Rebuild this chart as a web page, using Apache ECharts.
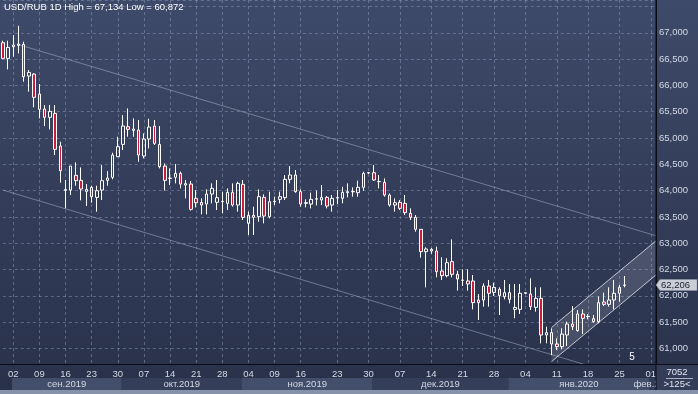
<!DOCTYPE html>
<html><head><meta charset="utf-8">
<script src="https://cdn.jsdelivr.net/npm/echarts@6/dist/echarts.min.js"></script>
<style>html,body{margin:0;padding:0;background:#2e3750;}#c{width:698px;height:394px;}</style>
</head><body><div id="c"></div>
<script>
// ---------- data ----------
const symbolName = 'USD/RUB 1D';
const slotCount = 126; // visible bar slots (incl. empty right shift)
// [open, close, low, high]
const ohlc = [
 [66812,66514,66495,66850],[66514,66723,66305,66850],[66736,66768,66546,66958],[66761,66787,66609,67134],
 [66780,66166,66071,66831],[66178,66248,65881,66292],[66216,65773,65583,66230],[65836,65545,65374,66026],
 [65551,65393,65228,65627],[65393,65507,65164,65627],[65469,64784,64677,65627],[64848,64379,64151,64930],
 [64005,64020,63663,64201],[64011,64467,63916,64467],[64290,64189,64094,64537],[64195,64030,63815,64442],
 [63986,64024,63707,64125],[64062,63884,63770,64094],[63872,63998,63599,64094],[64011,64189,63821,64486],
 [64195,64239,64094,64372],[64252,64676,64214,64721],[64645,64835,64645,65025],[64879,65228,64772,65437],
 [65215,65165,65025,65564],[65146,65171,65025,65374],[65152,64677,64550,65342],[64658,64981,64613,65088],
 [64981,65209,64803,65367],[65228,64898,64867,65342],[64879,64455,64423,65228],[64467,64195,64000,64518],
 [64233,64239,64106,64423],[64252,64328,64138,64505],[64328,64125,64043,64360],[64106,64132,63853,64202],
 [64125,63643,63619,64183],[63853,63770,63680,64011],[63777,63726,63549,63853],[63745,63935,63549,64024],
 [63935,64043,63758,64138],[63777,63866,63631,64202],[63790,63796,63568,63980],[63758,63967,63631,64043],
 [63967,63726,63695,64138],[63726,64138,63600,64170],[64119,63492,63441,64202],[63378,63530,63156,63600],
 [63530,63492,63156,63695],[63505,63885,63410,64024],[63872,63517,63378,63929],[63505,63790,63473,63980],
 [63790,63796,63726,63885],[63834,63885,63758,63980],[63866,64214,63822,64297],[64214,64297,64138,64468],
 [64297,63980,63961,64392],[63980,63745,63695,64024],[63758,63771,63682,63834],[63745,63834,63663,63961],
 [63838,63845,63720,64000],[63822,63872,63726,64107],[63872,63707,63663,63897],[63726,63853,63600,63917],
 [63860,63866,63745,64012],[63853,63967,63758,64075],[63961,63980,63872,64138],[63978,63983,63885,64062],
 [63961,64062,63885,64189],[64062,64328,63999,64360],[64335,64341,64316,64354],[64341,64202,64183,64487],
 [64170,64175,64043,64297],[64157,63917,63885,64233],[63917,63726,63695,63948],[63726,63771,63600,63853],
 [63777,63663,63631,63822],[63758,63581,63536,63917],[63568,63492,63441,63663],[63492,63264,63219,63536],
 [63264,62839,62725,63264],[62839,62890,62161,62922],[62884,62852,62800,62910],[62852,62459,62352,62935],
 [62472,62383,62301,62732],[62383,62630,62352,62713],[62650,62409,62352,63074],[62409,62320,62100,62478],
 [62295,62300,62187,62504],[62282,62225,62098,62504],[62282,61870,61743,62396],[61921,61870,61541,62035],
 [61921,62187,61794,62238],[62187,62048,61794,62301],[62066,62161,61997,62250],[62124,62003,61636,62162],
 [61984,62060,61933,62301],[62060,61933,61857,62225],[61743,61781,61572,62225],[61743,62048,61655,62225],
 [62048,62060,62041,62066],[62035,61794,61730,62333],[61781,61952,61699,62162],[61952,61255,61097,62162],
 [61255,61300,61097,61414],[61300,61084,60872,61382],[61084,61034,60970,61192],[61034,61274,60983,61382],
 [61255,61464,61046,61509],[61464,61414,61350,61807],[61338,61655,61319,61730],[61655,61572,61274,61743],
 [61604,61610,61553,61655],[61566,61509,61490,61636],[61509,61870,61477,61984],[61883,61838,61807,62060],
 [61838,61921,61794,62162],[61921,62048,61743,62301],[62048,62162,61889,62206],[62200,62206,62162,62377]
];
const dayLabelIdx = [2,7,12,17,22,27,32,37,42,47,52,57,64,70,76,82,88,94,100,106,112,118,124];
const dayLabels = ['02','09','16','23','30','07','14','21','28','04','09','16','23','30','07','14','21','28','04','11','18','25','01'];
const monthStartIdx = [2,23,46,71,97,124];
const monthLabels = ['сен.2019','окт.2019','ноя.2019','дек.2019','янв.2020','фев.2020'];
const priceLabelMax = 67000; // highest price label shown on the scale
const currentPrice = 62206;
const downChannelUpper = [[3,66777],[125,63141]];
const downChannelLower = [[0,64012],[125,60287]];
const upChannelUpper = [[105,61398],[125,63046]];
const upChannelLower = [[105,60750],[125,62398]];
const waveMark = {idx:120, price:60830, text:'5'};
const barsTotal = '7052';
const barsVisible = '>125<';
const yMin = 60704, yMax = 67624;

// ---------- chart ----------
const FONT = 'Liberation Sans, Arial, sans-serif';
const categories = Array.from({length: slotCount}, (_, i) => 'b' + i);
const labelMap = {};
dayLabelIdx.forEach((k, j) => { labelMap[k] = dayLabels[j]; });
const isTick = (i) => labelMap[i] !== undefined;
const fmt = v => { const s = String(Math.round(v)); return s.slice(0, s.length - 3) + ',' + s.slice(-3); };
const hi = Math.max(...ohlc.map(r => r[3]));
const lo = Math.min(...ohlc.map(r => r[2]));

const chart = echarts.init(document.getElementById('c'), null, {renderer: 'canvas', width: 698, height: 394});
const gridLine = {show: true, lineStyle: {color: 'rgba(150,165,195,0.45)', type: [3, 3], width: 1}};

chart.setOption({
  animation: false,
  backgroundColor: {type: 'linear', x: 0, y: 0, x2: 0, y2: 1, colorStops: [
    {offset: 0, color: '#3e4a69'}, {offset: 1, color: '#29314a'}]},
  grid: {left: 2.8, right: 41.95, top: 0, bottom: 30, containLabel: false},
  xAxis: {
    type: 'category', data: categories, boundaryGap: false,
    axisLine: {show: true, lineStyle: {color: '#0a0d14', width: 1}},
    axisTick: {show: false},
    axisLabel: {interval: (i) => isTick(i), formatter: (v, i) => labelMap[i] || '',
      color: '#d3d9e6', fontSize: 9.5, fontFamily: FONT, margin: 5},
    splitLine: Object.assign({interval: (i) => isTick(i)}, gridLine)
  },
  yAxis: {
    type: 'value', position: 'right', min: yMin, max: yMax, splitNumber: 14, scale: true,
    axisLine: {show: true, lineStyle: {color: '#0a0d14', width: 1}},
    axisTick: {show: false},
    axisLabel: {formatter: v => (v > priceLabelMax ? '' : fmt(v)), color: '#d3d9e6', fontSize: 9.5, fontFamily: FONT, margin: 3,
      showMinLabel: false, showMaxLabel: false},
    splitLine: gridLine
  },
  series: [
    {
      type: 'custom', clip: true, silent: true, z: 1,
      data: [[0, 62000]],
      renderItem: (params, api) => {
        const p = pt => api.coord(pt);
        const du = downChannelUpper.map(p), dl = downChannelLower.map(p);
        const uu = upChannelUpper.map(p), ul = upChannelLower.map(p);
        const ln = (a, stroke) => ({type: 'line', shape: {x1: a[0][0], y1: a[0][1], x2: a[1][0], y2: a[1][1]},
          style: {stroke: stroke, lineWidth: 1}});
        return {type: 'group', children: [
          {type: 'polygon', shape: {points: [uu[0], uu[1], ul[1], ul[0]]}, style: {fill: 'rgba(205,212,228,0.17)'}},
          ln(du, 'rgba(175,185,210,0.5)'),
          ln(dl, 'rgba(175,185,210,0.5)'),
          ln(uu, 'rgba(215,220,232,0.85)'),
          ln(ul, 'rgba(215,220,232,0.85)')
        ]};
      }
    },
    {
      type: 'candlestick', data: ohlc, barWidth: 3, z: 2,
      itemStyle: {color: 'rgba(0,0,0,0)', color0: '#c81e3c', borderColor: '#ffffff', borderColor0: '#ffffff', borderWidth: 1}
    }
  ]
});

// ---------- overlays positioned through the axes ----------
const X = i => chart.convertToPixel({xAxisIndex: 0}, categories[Math.min(i, slotCount - 1)]);
const Y = v => chart.convertToPixel({yAxisIndex: 0}, v);
const g = [];
const axisY = 364, rightX = 656, bottomY = 390;
// title
g.push({type: 'text', left: 4, top: 2, z: 20, style: {text: symbolName + ' High = ' + fmt(hi) + ' Low = ' + fmt(lo),
  fill: '#ffffff', font: '9.5px ' + FONT}});
// month bands
const bandL = monthStartIdx.map(i => X(i) - 1.3);
const lastM = monthLabels.length - 1;
for (let m = 0; m < monthLabels.length; m++) {
  const x0 = bandL[m];
  const x1 = m < lastM ? bandL[m + 1] : x0 + 120;
  g.push({type: 'rect', z: -1, shape: {x: x0, y: 378, width: x1 - x0, height: 12},
    style: {fill: m % 2 === 0 ? '#434e6a' : '#343e58'}});
  g.push({type: 'text', z: 3, style: {text: monthLabels[m], x: m < lastM ? (x0 + x1) / 2 : x0 - 16, y: 384,
    textAlign: m < lastM ? 'center' : 'left', textVerticalAlign: 'middle', fill: '#d3d9e6', font: '9.5px ' + FONT}});
}
// right-bottom cell
g.push({type: 'rect', z: 10, shape: {x: rightX, y: axisY, width: 42, height: bottomY - axisY}, style: {fill: '#333d58'}});
g.push({type: 'line', z: 11, shape: {x1: rightX, y1: 0, x2: rightX, y2: bottomY}, style: {stroke: '#0a0d14', lineWidth: 1}});
g.push({type: 'line', z: 11, shape: {x1: 0, y1: axisY + 0.5, x2: 698, y2: axisY + 0.5}, style: {stroke: '#0a0d14', lineWidth: 1}});
g.push({type: 'line', z: 11, shape: {x1: 666, y1: 378.5, x2: 693, y2: 378.5}, style: {stroke: '#aab3c6', lineWidth: 1}});
g.push({type: 'text', z: 11, style: {text: barsTotal, x: 677, y: 372, textAlign: 'center', textVerticalAlign: 'middle', fill: '#e0e5ef', font: '9.5px ' + FONT}});
g.push({type: 'text', z: 11, style: {text: barsVisible, x: 677, y: 384, textAlign: 'center', textVerticalAlign: 'middle', fill: '#e0e5ef', font: '9.5px ' + FONT}});
// bottom strip
g.push({type: 'rect', z: 12, shape: {x: 0, y: bottomY, width: 698, height: 394 - bottomY}, style: {fill: '#8691aa'}});
// current price label
const py = Y(currentPrice);
g.push({type: 'polygon', z: 12, shape: {points: [[656, py], [660, py - 5.5], [697, py - 5.5], [697, py + 5.5], [660, py + 5.5]]},
  style: {fill: '#c9cdd6', stroke: '#8e96a8', lineWidth: 0.5}});
g.push({type: 'text', z: 13, style: {text: fmt(currentPrice), x: 661, y: py, textVerticalAlign: 'middle', fill: '#1b2030', font: '9.5px ' + FONT}});
// wave mark
g.push({type: 'text', z: 5, style: {text: waveMark.text, x: X(waveMark.idx) + 2, y: Y(waveMark.price), textAlign: 'center', textVerticalAlign: 'middle', fill: '#ffffff', font: '10px ' + FONT}});
chart.setOption({graphic: g});
</script></body></html>
